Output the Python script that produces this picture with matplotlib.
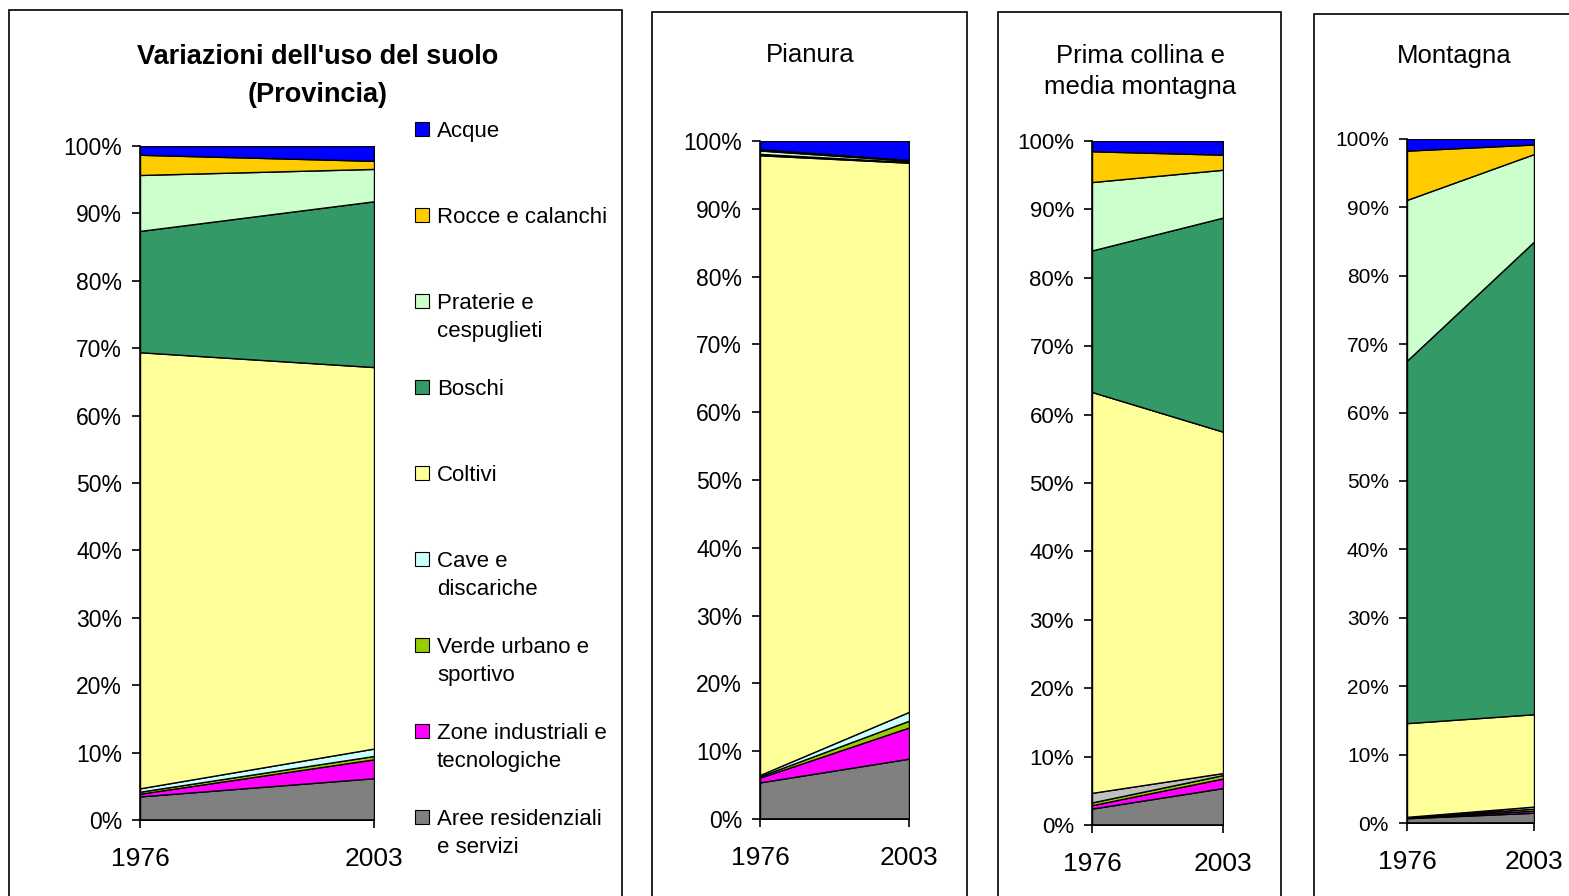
import matplotlib
matplotlib.use('Agg')
import matplotlib.pyplot as plt
from matplotlib.patches import Rectangle
import numpy as np

plt.rcParams['font.family'] = ['Liberation Sans', 'DejaVu Sans']

W, H = 1569, 896

years = ['1976', '2003']

categorie = ['Aree residenziali\ne servizi', 'Zone industriali e\ntecnologiche',
             'Verde urbano e\nsportivo', 'Cave e\ndiscariche', 'Coltivi', 'Boschi',
             'Praterie e\ncespuglieti', 'Rocce e calanchi', 'Acque']
colori = ['#808080', '#FF00FF', '#99CC00', '#CCFFFF', '#FFFF99', '#339966',
          '#CCFFCC', '#FFCC00', '#0000FF']

# quote percentuali per categoria (1976, 2003), dal basso verso l'alto
provincia = [[3.5, 6.2], [0.4, 2.8], [0.3, 0.5], [0.5, 1.1], [64.7, 56.6],
             [18.0, 24.6], [8.3, 4.8], [3.0, 1.2], [1.3, 2.2]]
pianura = [[5.4, 8.9], [0.7, 4.6], [0.2, 1.0], [0.2, 1.3], [91.4, 81.0],
           [0.2, 0.1], [0.5, 0.2], [0.2, 0.1], [1.2, 2.8]]
collina = [[2.4, 5.4], [0.5, 1.4], [0.4, 0.5], [1.4, 0.3], [58.6, 49.9],
           [20.7, 31.3], [10.0, 7.0], [4.5, 2.2], [1.5, 2.0]]
montagna = [[0.7, 1.5], [0.1, 0.3], [0.05, 0.3], [0.05, 0.3], [13.7, 13.5],
            [53.0, 69.1], [23.5, 12.8], [7.2, 1.4], [1.7, 0.8]]

fig = plt.figure(figsize=(W / 100, H / 100), dpi=100)
fig.patch.set_facecolor('white')


def fx(x):
    return x / W


def fy(y):
    return 1 - y / H


def pannello(x0, x1, ytop, ybot, dati, col, ytick_fs):
    ax = fig.add_axes([fx(x0), fy(ybot), (x1 - x0) / W, (ybot - ytop) / H])
    v = np.array(dati, dtype=float)
    v = v / v.sum(axis=0) * 100
    ax.stackplot([0, 1], v, colors=col, edgecolor='black', linewidth=1.0)
    ax.set_xlim(0, 1)
    ax.set_ylim(0, 100)
    ax.margins(0)
    for s in ['top', 'right']:
        ax.spines[s].set_visible(False)
    for s in ['left', 'bottom']:
        ax.spines[s].set_linewidth(1.2)
    ax.set_yticks(np.arange(0, 101, 10))
    ax.set_yticklabels(['%d%%' % t for t in range(0, 101, 10)], fontsize=ytick_fs)
    ax.set_xticks([0, 1])
    ax.set_xticklabels(years, fontsize=19)
    ax.tick_params(axis='y', direction='out', length=6, width=1.2, pad=7)
    ax.tick_params(axis='x', direction='out', length=5.5, width=1.2, pad=14)
    ax.set_facecolor('none')
    return ax


def cornice(x0, y0, x1, y1):
    fig.add_artist(Rectangle((fx(x0), fy(y1)), (x1 - x0) / W, (y1 - y0) / H,
                             transform=fig.transFigure, fill=False,
                             edgecolor='black', linewidth=1.2))


cornice(9, 10, 622, 905)
cornice(652, 12, 967, 905)
cornice(998, 12, 1281, 905)
cornice(1314, 14, 1580, 905)

pannello(140, 374, 146, 820, provincia, colori, 16.5)
pannello(760, 909, 141, 819, pianura, colori, 16.5)
col3 = list(colori)
col3[3] = '#C0C0C0'
pannello(1092, 1223, 141, 825, collina, col3, 16)
pannello(1407, 1534, 139, 823, montagna, colori, 15)

fig.text(fx(318), fy(76), "Variazioni dell'uso del suolo\n(Provincia)",
         ha='center', va='center', fontsize=19.5, fontweight='bold',
         linespacing=1.55)
fig.text(fx(810), fy(55), 'Pianura', ha='center', va='center', fontsize=18.5)
fig.text(fx(1140), fy(71.5), 'Prima collina e\nmedia montagna', ha='center',
         va='center', fontsize=18.5, linespacing=1.42)
fig.text(fx(1454), fy(56), 'Montagna', ha='center', va='center', fontsize=18.5)

# legenda
for i, k in enumerate(range(len(categorie) - 1, -1, -1)):
    yc = 129 + i * 86
    fig.add_artist(Rectangle((fx(415), fy(yc + 7)), 14 / W, 14 / H,
                             transform=fig.transFigure, facecolor=colori[k],
                             edgecolor='black', linewidth=0.8))
    for j, riga in enumerate(categorie[k].split('\n')):
        fig.text(fx(437), fy(yc + 8 + j * 28), riga, ha='left', va='baseline',
                 fontsize=16)

fig.savefig('out.png', dpi=100)
